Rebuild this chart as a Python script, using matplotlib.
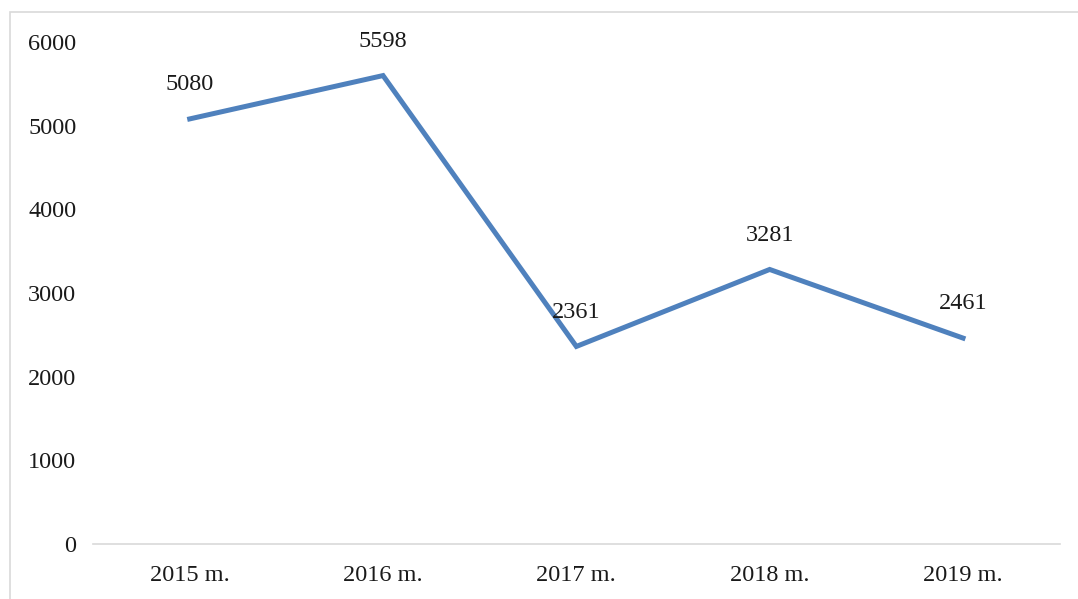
import matplotlib
matplotlib.use("Agg")
import matplotlib.pyplot as plt
from matplotlib.patches import Rectangle

years = ["2015 m.", "2016 m.", "2017 m.", "2018 m.", "2019 m."]
values = [5080, 5598, 2361, 3281, 2461]

plt.rcParams['font.family'] = ['Liberation Serif', 'DejaVu Serif']

fig = plt.figure(figsize=(10.78, 5.99), dpi=100)
ax = fig.add_axes([0.0863, 0.0918, 0.8967, 0.8382])

# outer frame of the chart area (cut at right and bottom)
fig.patches.append(Rectangle((10 / 1078, -0.05), 1.2, 1 - 12 / 599 + 0.05,
                             transform=fig.transFigure, fill=False,
                             edgecolor="#d9d9d9", linewidth=1.2))

x = list(range(len(years)))
ax.plot(x, values, "-", color="#4f81bd", linewidth=3.6, solid_joinstyle="miter")

for xi, v in zip(x, values):
    ax.annotate(str(v), (xi, v), xytext=(0, 17), textcoords="offset points",
                ha="center", va="bottom", fontsize=17.5, color="#1a1a1a")

ax.set_xlim(-0.5, 4.5)
ax.set_ylim(0, 6000)
ax.set_yticks(range(0, 6001, 1000))
ax.set_xticks(x)
ax.set_xticklabels(years)

for s in ["top", "right", "left"]:
    ax.spines[s].set_visible(False)
ax.spines["bottom"].set_color("#d9d9d9")
ax.spines["bottom"].set_linewidth(1.2)
ax.tick_params(axis="both", length=0, labelsize=17.5, colors="#1a1a1a")
ax.tick_params(axis="y", pad=12)
ax.tick_params(axis="x", pad=15)

plt.savefig("out.png", dpi=100)
